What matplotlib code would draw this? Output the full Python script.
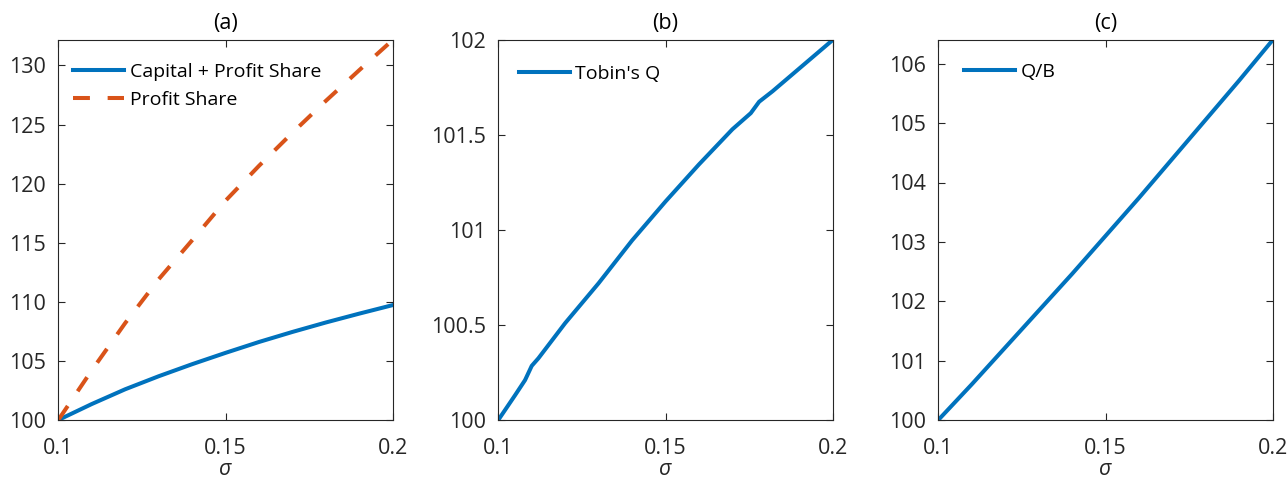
import matplotlib
matplotlib.use('Agg')
import matplotlib.pyplot as plt

plt.rcParams['font.family'] = ['Open Sans', 'DejaVu Sans']

blue = '#0072BD'
orange = '#D95319'
grey = '#262626'

# (a) capital + profit share vs profit share alone
sigma_a = [0.10, 0.11, 0.12, 0.13, 0.14, 0.15, 0.16, 0.17, 0.18, 0.19, 0.20]
capital_profit = [100.0, 101.35, 102.6, 103.7, 104.72, 105.68, 106.6, 107.45, 108.25, 109.0, 109.72]
profit_share = [100.0, 104.2, 108.2, 111.9, 115.2, 118.55, 121.5, 124.3, 127.0, 129.6, 132.15]

# (b) Tobin's Q
sigma_b = [0.10, 0.105, 0.108, 0.110, 0.112, 0.12, 0.13, 0.14, 0.15, 0.16, 0.17,
           0.1755, 0.178, 0.182, 0.19, 0.20]
tobins_q = [100.0, 100.13, 100.21, 100.285, 100.325, 100.51, 100.72, 100.945, 101.15,
            101.345, 101.53, 101.615, 101.675, 101.73, 101.85, 102.0]

# (c) Q/B
sigma_c = [0.10, 0.11, 0.12, 0.13, 0.14, 0.15, 0.16, 0.17, 0.18, 0.19, 0.20]
q_over_b = [100.0, 100.6, 101.22, 101.84, 102.46, 103.1, 103.74, 104.4, 105.06, 105.72, 106.4]

xticks = [0.1, 0.15, 0.2]
xticklabels = ['0.1', '0.15', '0.2']

fig = plt.figure(figsize=(12.88, 4.83), dpi=100)
lefts = [58.3 / 1288, 498.3 / 1288, 938.3 / 1288]
axes = [fig.add_axes([l, 63 / 483, 334.4 / 1288, 380 / 483]) for l in lefts]


def style(ax, title, yticks, yticklabels):
    ax.set_xlim(0.1, 0.2)
    ax.set_xticks(xticks)
    ax.set_xticklabels(xticklabels)
    ax.set_yticks(yticks)
    ax.set_yticklabels(yticklabels)
    ax.tick_params(direction='in', top=True, right=True, length=5, width=0.8,
                   colors=grey, labelsize=15.5)
    ax.tick_params(axis='x', pad=13)
    ax.tick_params(axis='y', pad=9)
    for s in ax.spines.values():
        s.set_color(grey)
        s.set_linewidth(0.8)
    ax.set_title(title, fontsize=15.5, color='black', pad=8)
    ax.set_xlabel('σ', fontsize=15.5, fontstyle='italic', color=grey, labelpad=0)


ax = axes[0]
ax.plot(sigma_a, capital_profit, color=blue, lw=2.9, label='Capital + Profit Share')
ax.plot(sigma_a, profit_share, color=orange, lw=2.9, dashes=(4.2, 4.4),
        label='Profit Share')
ax.set_ylim(100, max(profit_share))
style(ax, '(a)', [100, 105, 110, 115, 120, 125, 130],
      ['100', '105', '110', '115', '120', '125', '130'])
ax.legend(loc='upper left', bbox_to_anchor=(0.045, 0.94), frameon=False,
          fontsize=14, handlelength=2.6, handletextpad=0.3, labelspacing=0.5,
          borderpad=0, borderaxespad=0)

ax = axes[1]
ax.plot(sigma_b, tobins_q, color=blue, lw=2.9, label="Tobin's Q")
ax.set_ylim(100, 102)
style(ax, '(b)', [100, 100.5, 101, 101.5, 102],
      ['100', '100.5', '101', '101.5', '102'])
ax.legend(loc='upper left', bbox_to_anchor=(0.062, 0.935), frameon=False,
          fontsize=14, handlelength=2.6, handletextpad=0.3,
          borderpad=0, borderaxespad=0)

ax = axes[2]
ax.plot(sigma_c, q_over_b, color=blue, lw=2.9, label='Q/B')
ax.set_ylim(100, max(q_over_b))
style(ax, '(c)', [100, 101, 102, 103, 104, 105, 106],
      ['100', '101', '102', '103', '104', '105', '106'])
ax.legend(loc='upper left', bbox_to_anchor=(0.077, 0.94), frameon=False,
          fontsize=14, handlelength=2.6, handletextpad=0.3,
          borderpad=0, borderaxespad=0)

fig.savefig('out.png', dpi=100)
